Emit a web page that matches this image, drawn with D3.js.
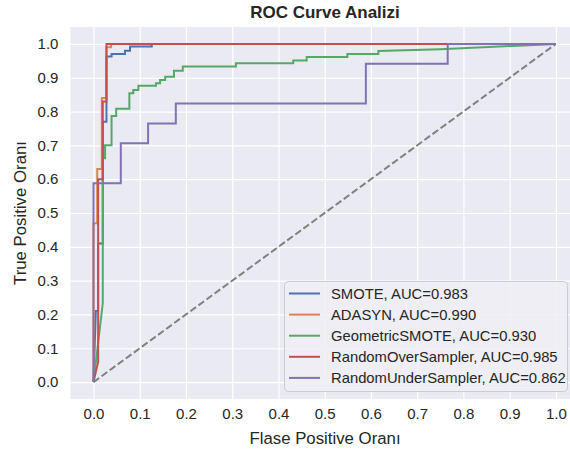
<!DOCTYPE html>
<html>
<head>
<meta charset="utf-8">
<script src="https://cdn.jsdelivr.net/npm/d3@7"></script>
<style>
  body { margin: 0; background: #fff; }
  svg text { font-family: "Liberation Sans", Arial, sans-serif; fill: #262626; }
</style>
</head>
<body>
<svg id="chart" width="570" height="450"></svg>
<script>
// ---- Data ----
const seriesNames = ["SMOTE", "ADASYN", "GeometricSMOTE", "RandomOverSampler", "RandomUnderSampler"];
const aucValues = [0.983, 0.990, 0.930, 0.985, 0.862];
const seriesColors = ["#4C72B0", "#DD8452", "#55A868", "#C44E52", "#8172B3"];

const smoteFpr = [0, 0.005, 0.01, 0.01, 0.02, 0.02, 0.028, 0.028, 0.039, 0.039, 0.068, 0.068, 0.079, 0.079, 0.126, 0.126, 1];
const smoteTpr = [0, 0.21, 0.21, 0.41, 0.41, 0.77, 0.77, 0.963, 0.963, 0.97, 0.97, 0.98, 0.98, 0.992, 0.992, 1, 1];

const adasynFpr = [0, 0, 0.008, 0.008, 0.018, 0.018, 0.028, 0.028, 0.038, 0.038, 1];
const adasynTpr = [0, 0.47, 0.47, 0.63, 0.63, 0.84, 0.84, 0.99, 0.99, 1, 1];

const gsmoteFpr = [0, 0.02, 0.02, 0.025, 0.025, 0.039, 0.039, 0.049, 0.049, 0.0775, 0.0775, 0.086, 0.086, 0.097, 0.097, 0.135, 0.135, 0.144, 0.144, 0.155, 0.155, 0.174, 0.174, 0.193, 0.193, 0.308, 0.308, 0.432, 0.432, 0.461, 0.461, 0.549, 0.549, 0.616, 0.616, 0.75, 1];
const gsmoteTpr = [0, 0.233, 0.662, 0.662, 0.70, 0.70, 0.787, 0.787, 0.808, 0.808, 0.854, 0.854, 0.864, 0.864, 0.876, 0.876, 0.884, 0.884, 0.893, 0.893, 0.903, 0.903, 0.921, 0.921, 0.933, 0.933, 0.943, 0.943, 0.951, 0.951, 0.961, 0.961, 0.970, 0.970, 0.979, 0.984, 1];

const rosFpr = [0, 0.01, 0.01, 0.02, 0.02, 0.028, 0.028, 1];
const rosTpr = [0, 0.06, 0.6, 0.6, 0.83, 0.83, 1, 1];

const rusFpr = [0, 0, 0.059, 0.059, 0.118, 0.118, 0.178, 0.178, 0.589, 0.589, 0.766, 0.766, 1];
const rusTpr = [0, 0.588, 0.588, 0.706, 0.706, 0.765, 0.765, 0.824, 0.824, 0.941, 0.941, 1, 1];

const fprList = [smoteFpr, adasynFpr, gsmoteFpr, rosFpr, rusFpr];
const tprList = [smoteTpr, adasynTpr, gsmoteTpr, rosTpr, rusTpr];

const tickValues = [0, 0.1, 0.2, 0.3, 0.4, 0.5, 0.6, 0.7, 0.8, 0.9, 1.0];

const titleText = "ROC Curve Analizi";
const xLabelText = "Flase Positive Oranı";
const yLabelText = "True Positive Oranı";

// ---- Layout ----
const svg = d3.select("#chart");
const plot = { left: 70.4, right: 579, top: 27, bottom: 399 };

const x = d3.scaleLinear().domain([-0.05, 1.05]).range([plot.left, plot.right]);
const y = d3.scaleLinear().domain([-0.05, 1.05]).range([plot.bottom, plot.top]);

svg.append("defs").append("clipPath").attr("id", "clip")
  .append("rect").attr("x", plot.left).attr("y", plot.top)
  .attr("width", plot.right - plot.left).attr("height", plot.bottom - plot.top);

// background
svg.append("rect")
  .attr("x", plot.left).attr("y", plot.top)
  .attr("width", plot.right - plot.left).attr("height", plot.bottom - plot.top)
  .attr("fill", "#EAEAF2");

// grid via axes
const gx = svg.append("g")
  .attr("transform", `translate(0,${plot.bottom})`)
  .call(d3.axisBottom(x).tickValues(tickValues).tickFormat(d3.format(".1f"))
    .tickSize(-(plot.bottom - plot.top)).tickPadding(9));
gx.select(".domain").remove();
gx.selectAll(".tick line").attr("stroke", "#fff").attr("stroke-width", 1.2);
gx.selectAll(".tick text").attr("font-size", "15px").attr("fill", "#262626")
  .attr("dy", "0.71em");

const gy = svg.append("g")
  .attr("transform", `translate(${plot.left},0)`)
  .call(d3.axisLeft(y).tickValues(tickValues).tickFormat(d3.format(".1f"))
    .tickSize(-(plot.right - plot.left)).tickPadding(12));
gy.select(".domain").remove();
gy.selectAll(".tick line").attr("stroke", "#fff").attr("stroke-width", 1.2);
gy.selectAll(".tick text").attr("font-size", "15px").attr("fill", "#262626");

// curves
const line = d3.line().x(d => x(d[0])).y(d => y(d[1]));
const curves = svg.append("g").attr("clip-path", "url(#clip)");
seriesNames.forEach((name, i) => {
  const pts = fprList[i].map((f, j) => [f, tprList[i][j]]);
  curves.append("path")
    .datum(pts)
    .attr("d", line)
    .attr("fill", "none")
    .attr("stroke", seriesColors[i])
    .attr("stroke-width", 2)
    .attr("stroke-linejoin", "miter");
});

// diagonal
curves.append("path")
  .datum([[0, 0], [1, 1]])
  .attr("d", line)
  .attr("fill", "none")
  .attr("stroke", "#808080")
  .attr("stroke-width", 2)
  .attr("stroke-dasharray", "7,3");

// title and labels
svg.append("text")
  .attr("x", 325).attr("y", 18)
  .attr("text-anchor", "middle")
  .attr("font-size", "17px").attr("font-weight", "bold")
  .text(titleText);

svg.append("text")
  .attr("x", 325).attr("y", 444)
  .attr("text-anchor", "middle")
  .attr("font-size", "16.8px")
  .text(xLabelText);

svg.append("text")
  .attr("transform", `translate(26,${(plot.top + plot.bottom) / 2}) rotate(-90)`)
  .attr("text-anchor", "middle")
  .attr("font-size", "16.8px")
  .text(yLabelText);

// legend
const lg = svg.append("g");
lg.append("rect")
  .attr("x", 284.5).attr("y", 281.5)
  .attr("width", 283).attr("height", 110)
  .attr("rx", 4).attr("ry", 4)
  .attr("fill", "#EEEEF4").attr("fill-opacity", 0.9)
  .attr("stroke", "#cccccc").attr("stroke-width", 1);
seriesNames.forEach((name, i) => {
  const yy = 293.5 + i * 21.1;
  lg.append("line")
    .attr("x1", 289).attr("x2", 320)
    .attr("y1", yy).attr("y2", yy)
    .attr("stroke", seriesColors[i]).attr("stroke-width", 2);
  lg.append("text")
    .attr("x", 331).attr("y", yy + 5)
    .attr("font-size", "14.8px")
    .text(`${name}, AUC=${aucValues[i].toFixed(3)}`);
});
</script>
</body>
</html>
